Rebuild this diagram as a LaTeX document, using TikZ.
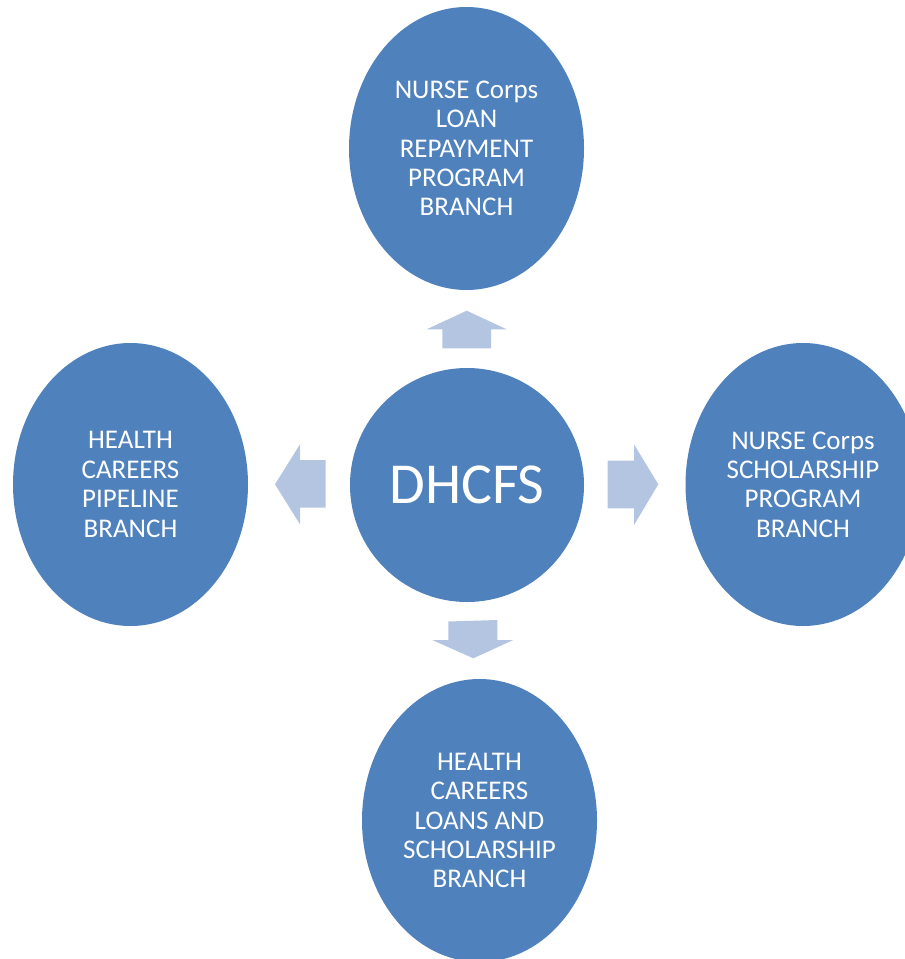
\documentclass[tikz,border=0pt]{standalone}
\usepackage{fontspec}
\setmainfont{Carlito}
\usetikzlibrary{shapes.geometric}
\definecolor{ellblue}{HTML}{4F81BD}
\definecolor{arrblue}{HTML}{B4C5E2}
\tikzset{
  branch/.style={ellipse, fill=ellblue, draw=none, inner sep=0pt,
    minimum width=235bp, minimum height=283bp, text=white, align=center,
    font=\fontsize{27bp}{29.4bp}\selectfont},
  hub/.style={circle, fill=ellblue, draw=none, inner sep=0pt,
    minimum size=234bp, text=white, font=\fontsize{58bp}{60bp}\selectfont},
  blockarrow/.style={fill=arrblue, draw=none}
}
\begin{document}
\begin{tikzpicture}[x=1bp,y=-1bp]
\useasboundingbox (0,0) rectangle (905,959);
\clip (0,0) rectangle (905,959);
\node[hub] (hub) at (467,485) {DHCFS};
\node[branch] (top) at (466.5,148.5) {NURSE Corps\\LOAN\\REPAYMENT\\PROGRAM\\BRANCH};
\node[branch] (left) at (130.5,484.5) {HEALTH\\CAREERS\\PIPELINE\\BRANCH};
\node[branch] (right) at (803,484.5) {NURSE Corps\\SCHOLARSHIP\\PROGRAM\\BRANCH};
\node[branch] (bottom) at (479.5,820.5) {HEALTH\\CAREERS\\LOANS AND\\SCHOLARSHIP\\BRANCH};
% up arrow
\fill[blockarrow] (442.3,348.3) -- (442.3,329.3) -- (426.7,329.3) -- (466.7,310.7)
  -- (506.7,329.3) -- (491,329.3) -- (491,348.3) -- cycle;
% left arrow
\fill[blockarrow] (325.7,460) -- (300,460) -- (300,444.3) -- (275,484.3)
  -- (300,524.3) -- (300,507.7) -- (325.7,507.7) -- cycle;
% right arrow
\fill[blockarrow] (607.7,460.7) -- (634,460.7) -- (634,444.3) -- (658.3,484.3)
  -- (634,525) -- (634,508.3) -- (607.7,508.3) -- cycle;
% down arrow
\fill[blockarrow] (448.3,621.5) -- (497.3,620) -- (497.3,640) -- (513.3,640)
  -- (473.3,658.3) -- (432.3,640) -- (448.3,640) -- cycle;
\end{tikzpicture}
\end{document}
